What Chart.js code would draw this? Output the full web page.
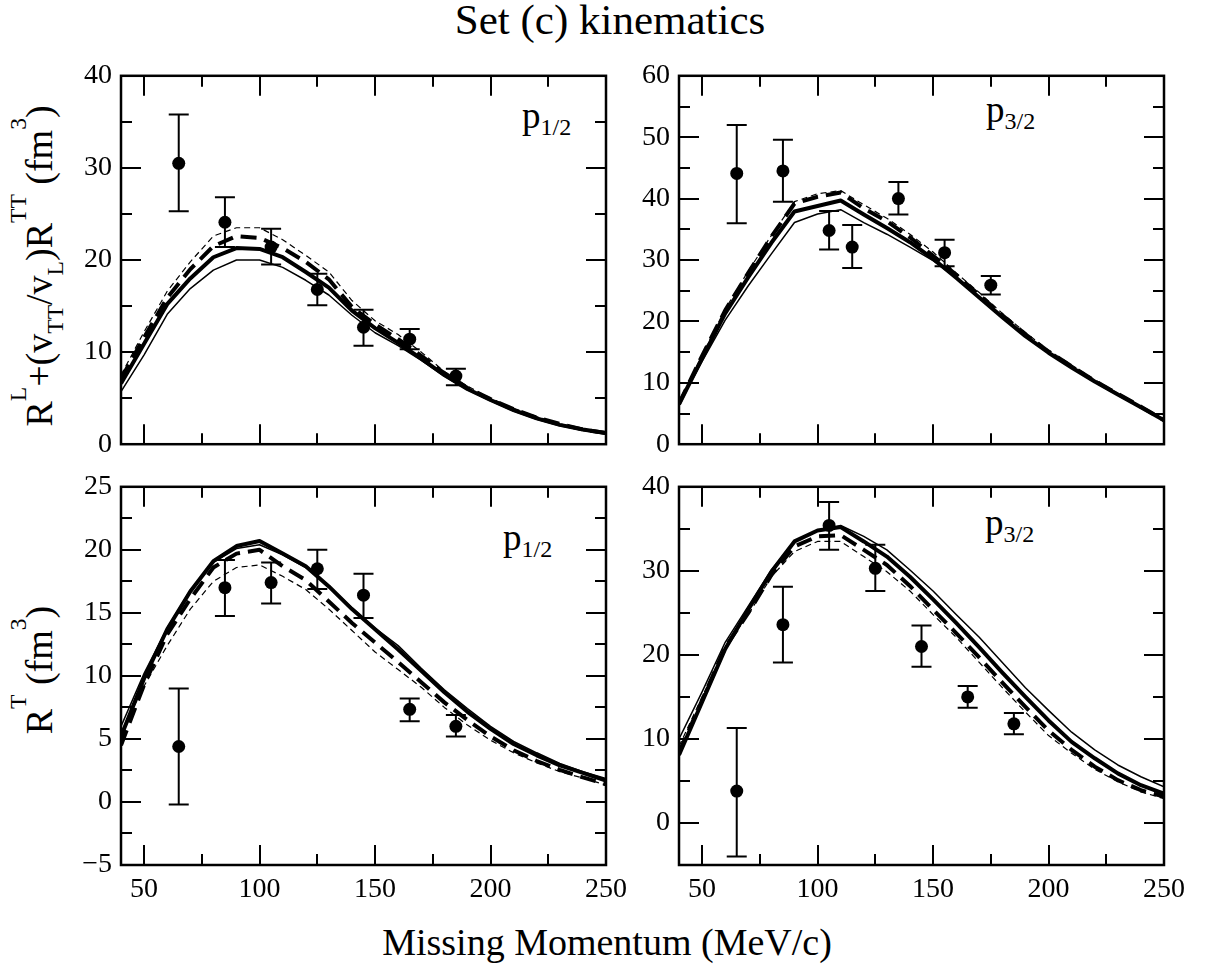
<!DOCTYPE html>
<html>
<head>
<meta charset="utf-8">
<script src="https://cdn.jsdelivr.net/npm/chart.js@4.4.0/dist/chart.umd.min.js"></script>
<style>
    body { margin: 0; background: #fff; }
    #figure { position: relative; width: 1209px; height: 970px; overflow: hidden;
              font-family: 'Liberation Serif', 'Times New Roman', serif; color: #000; }
    #figure canvas { position: absolute; }
    .txt { position: absolute; white-space: nowrap; line-height: 1; }
    .yt { font-size: 38px; transform: translate(-50%, -50%) rotate(-90deg); }
    .yt sup, .yt sub { position: relative; vertical-align: baseline; font-size: 0.62em; }
    .yt sup { top: -1.1em; }
    .yt sub { top: 0.45em; }
    .pl { font-size: 37px; }
    .pl sub { position: relative; vertical-align: baseline; font-size: 0.65em; top: 0.3em; }
</style>
</head>
<body>
<div id="figure">
    <div class="txt" style="left:610px; top:-2px; font-size:43px; transform:translateX(-50%);">Set (c) kinematics</div>
    <div class="txt" style="left:607px; top:923px; font-size:38px; transform:translateX(-50%);">Missing Momentum (MeV/c)</div>
    <div class="txt yt" style="left:39px; top:266px;">R<sup>L</sup>+(v<sub>TT</sub>/v<sub>L</sub>)R<sup>TT</sup> (fm<sup>3</sup>)</div>
    <div class="txt yt" style="left:39px; top:670px;">R<sup>T</sup> (fm<sup>3</sup>)</div>
    <div class="txt pl" style="left:522px; top:97px;">p<sub>1/2</sub></div>
    <div class="txt pl" style="left:986px; top:91px;">p<sub>3/2</sub></div>
    <div class="txt pl" style="left:503px; top:519px;">p<sub>1/2</sub></div>
    <div class="txt pl" style="left:985px; top:504px;">p<sub>3/2</sub></div>
</div>

<script>
// model curves are tabulated every 10 MeV/c
var curveX = [40, 50, 60, 70, 80, 90, 100, 110, 120, 130, 140, 150, 160, 170, 180, 190, 200, 210, 220, 230, 240, 250];

// top left: p1/2, R^L + (v_TT/v_L) R^TT
var tlThick     = [6.6, 10.9, 15.2, 18.0, 20.3, 21.3, 21.2, 20.3, 18.7, 17.0, 14.5, 12.6, 11.0, 9.3, 7.5, 6.0, 4.8, 3.7, 2.8, 2.1, 1.6, 1.2];
var tlThin      = [5.7, 9.7, 14.1, 16.9, 18.9, 20.0, 20.0, 19.2, 17.8, 16.2, 14.0, 12.1, 10.7, 9.1, 7.4, 5.9, 4.7, 3.6, 2.7, 2.0, 1.5, 1.1];
var tlThickDash = [7.1, 11.6, 15.9, 19.0, 21.5, 22.6, 22.4, 21.3, 19.8, 17.9, 14.9, 13.0, 11.4, 9.6, 7.7, 6.1, 4.9, 3.8, 2.9, 2.2, 1.6, 1.2];
var tlThinDash  = [7.5, 12.2, 16.6, 19.8, 22.6, 23.5, 23.5, 22.2, 20.5, 18.7, 15.6, 13.4, 11.9, 10.0, 7.9, 6.3, 5.0, 3.9, 3.0, 2.2, 1.7, 1.25];
var tlDataX = [65, 85, 105, 125, 145, 165, 185];
var tlDataY = [30.5, 24.1, 21.4, 16.8, 12.7, 11.4, 7.4];
var tlErrLo = [25.3, 21.4, 19.5, 15.1, 10.7, 10.3, 6.4];
var tlErrHi = [35.8, 26.8, 23.4, 18.5, 14.6, 12.5, 8.2];

// top right: p3/2, R^L + (v_TT/v_L) R^TT
var trThick     = [6.5, 14.0, 21.3, 27.2, 32.8, 37.9, 38.8, 39.7, 37.4, 35.2, 32.9, 30.2, 27.1, 23.9, 20.7, 17.6, 14.9, 12.5, 10.2, 8.1, 6.0, 3.9];
var trThin      = [6.5, 13.5, 20.2, 25.8, 31.0, 36.1, 37.5, 38.2, 36.1, 34.2, 32.1, 29.9, 27.1, 23.9, 20.7, 17.6, 14.9, 12.5, 10.2, 8.1, 6.0, 3.9];
var trThickDash = [6.6, 14.4, 21.8, 27.9, 33.8, 39.2, 40.3, 41.0, 38.4, 36.3, 33.7, 30.7, 27.6, 24.3, 21.0, 17.9, 15.1, 12.7, 10.3, 8.2, 6.1, 3.9];
var trThinDash  = [6.7, 14.5, 22.0, 28.2, 34.0, 39.5, 40.8, 41.3, 39.0, 36.8, 34.2, 31.3, 27.9, 24.7, 21.3, 18.2, 15.3, 12.9, 10.5, 8.3, 6.2, 4.0];
var trDataX = [65, 85, 105, 115, 135, 155, 175];
var trDataY = [44.1, 44.5, 34.8, 32.1, 40.0, 31.2, 25.9];
var trErrLo = [36.0, 39.5, 31.7, 28.7, 37.4, 29.0, 24.4];
var trErrHi = [52.0, 49.6, 38.0, 35.7, 42.7, 33.3, 27.4];

// bottom left: p1/2, R^T
var blThick     = [5.2, 9.8, 13.7, 16.7, 19.1, 20.3, 20.7, 19.7, 18.7, 17.1, 15.3, 13.7, 12.1, 10.4, 8.7, 7.15, 5.8, 4.6, 3.7, 2.9, 2.3, 1.7];
var blThin      = [6.0, 10.2, 13.8, 16.8, 19.0, 20.1, 20.4, 19.6, 18.6, 17.1, 15.4, 13.8, 12.4, 10.6, 8.9, 7.4, 6.0, 4.8, 3.9, 3.05, 2.4, 1.85];
var blThickDash = [4.5, 9.3, 13.3, 16.1, 18.6, 19.7, 20.0, 18.7, 17.6, 15.9, 14.2, 12.65, 11.1, 9.5, 7.9, 6.5, 5.2, 4.1, 3.25, 2.55, 1.95, 1.4];
var blThinDash  = [5.5, 9.2, 12.4, 15.3, 17.5, 18.6, 18.8, 17.9, 16.85, 15.3, 13.6, 11.9, 10.5, 9.1, 7.5, 6.1, 4.9, 3.9, 3.1, 2.4, 1.9, 1.35];
var blDataX = [65, 85, 105, 125, 145, 165, 185];
var blDataY = [4.4, 17.0, 17.4, 18.5, 16.4, 7.35, 6.0];
var blErrLo = [-0.2, 14.75, 15.75, 16.9, 14.6, 6.4, 5.2];
var blErrHi = [9.0, 19.2, 19.0, 20.0, 18.1, 8.2, 6.9];

// bottom right: p3/2, R^T
var brThick     = [8.1, 14.4, 20.7, 25.4, 29.9, 33.5, 34.8, 35.2, 33.5, 31.7, 29.3, 26.6, 23.8, 20.9, 17.9, 15.0, 12.2, 9.65, 7.7, 5.9, 4.5, 3.5];
var brThin      = [10.0, 15.6, 21.5, 25.8, 30.1, 33.5, 34.8, 35.4, 34.1, 32.5, 30.1, 27.6, 24.8, 22.1, 19.1, 16.1, 13.4, 10.8, 8.7, 6.9, 5.5, 4.3];
var brThickDash = [8.4, 14.6, 20.9, 25.0, 29.5, 32.9, 34.1, 34.25, 32.5, 30.7, 28.2, 25.4, 22.6, 19.7, 16.7, 13.8, 11.0, 8.7, 6.7, 5.1, 3.9, 3.15];
var brThinDash  = [9.1, 15.0, 20.9, 24.8, 29.3, 32.3, 33.5, 33.5, 31.7, 29.9, 27.6, 24.8, 22.1, 19.1, 16.1, 13.2, 10.4, 8.3, 6.4, 4.9, 3.7, 2.9];
var brDataX = [65, 85, 105, 125, 145, 165, 185];
var brDataY = [3.8, 23.6, 35.4, 30.3, 21.0, 15.0, 11.8];
var brErrLo = [-4.0, 19.1, 32.5, 27.6, 18.6, 13.7, 10.55];
var brErrHi = [11.3, 28.1, 38.2, 33.1, 23.5, 16.3, 13.1];

// tick positions (major + minor)
var xTicks = [50, 75, 100, 125, 150, 175, 200, 225, 250];
var tlYTicks = [0, 5, 10, 15, 20, 25, 30, 35, 40];
var trYTicks = [0, 5, 10, 15, 20, 25, 30, 35, 40, 45, 50, 55, 60];
var blYTicks = [-5, -2.5, 0, 2.5, 5, 7.5, 10, 12.5, 15, 17.5, 20, 22.5, 25];
var brYTicks = [-5, 0, 5, 10, 15, 20, 25, 30, 35, 40];

var serif = "'Liberation Serif', 'Times New Roman', serif";
Chart.defaults.font.family = serif;
Chart.defaults.color = '#000';

// line widths / dashes for the four model curves
var curveStyles = [
    { width: 4, dash: [] },        // thick solid
    { width: 1.5, dash: [] },      // thin solid
    { width: 4, dash: [16, 8] },   // thick dashed
    { width: 1.2, dash: [6, 4] }   // thin dashed
];

// frame position of each panel in the page
var panels = [
    { left: 121, top: 72, right: 606, bottom: 452, yMin: 0, yMax: 40, yTicks: tlYTicks, yMajor: 10, showX: false,
      curves: [tlThick, tlThin, tlThickDash, tlThinDash], dx: tlDataX, dy: tlDataY, lo: tlErrLo, hi: tlErrHi },
    { left: 679, top: 72, right: 1164, bottom: 452, yMin: 0, yMax: 60, yTicks: trYTicks, yMajor: 10, showX: false,
      curves: [trThick, trThin, trThickDash, trThinDash], dx: trDataX, dy: trDataY, lo: trErrLo, hi: trErrHi },
    { left: 121, top: 483, right: 606, bottom: 865, yMin: -5, yMax: 25, yTicks: blYTicks, yMajor: 5, showX: true,
      curves: [blThick, blThin, blThickDash, blThinDash], dx: blDataX, dy: blDataY, lo: blErrLo, hi: blErrHi },
    { left: 679, top: 483, right: 1164, bottom: 865, yMin: -5, yMax: 40, yTicks: brYTicks, yMajor: 10, showX: true,
      curves: [brThick, brThin, brThickDash, brThinDash], dx: brDataX, dy: brDataY, lo: brErrLo, hi: brErrHi }
];

function isMajor(v, step) {
    var r = v / step;
    return Math.abs(r - Math.round(r)) < 1e-6;
}

// error bars with caps, drawn under the markers
var errorBarPlugin = {
    id: 'errorBars',
    beforeDatasetsDraw: function (chart, args, opts) {
        var ctx = chart.ctx;
        var xs = chart.scales.x, ys = chart.scales.y;
        ctx.save();
        ctx.strokeStyle = '#000';
        ctx.lineWidth = 2;
        ctx.beginPath();
        for (var i = 0; i < opts.x.length; i++) {
            var px = xs.getPixelForValue(opts.x[i]);
            var top = ys.getPixelForValue(opts.hi[i]);
            var bot = ys.getPixelForValue(opts.lo[i]);
            ctx.moveTo(px, top); ctx.lineTo(px, bot);
            ctx.moveTo(px - 10, top); ctx.lineTo(px + 10, top);
            ctx.moveTo(px - 10, bot); ctx.lineTo(px + 10, bot);
        }
        ctx.stroke();
        ctx.restore();
    }
};

// box frame with inward ticks on all four sides
var framePlugin = {
    id: 'frameTicks',
    afterDraw: function (chart, args, opts) {
        var ctx = chart.ctx, a = chart.chartArea;
        var xs = chart.scales.x, ys = chart.scales.y;
        ctx.save();
        ctx.strokeStyle = '#000';
        ctx.lineWidth = 2;
        ctx.beginPath();
        xs.ticks.forEach(function (t) {
            var px = Math.round(xs.getPixelForValue(t.value));
            if (px <= a.left + 1 || px >= a.right - 1) return;
            var len = isMajor(t.value, opts.xMajor) ? 20 : 11;
            ctx.moveTo(px, a.bottom); ctx.lineTo(px, a.bottom - len);
            ctx.moveTo(px, a.top); ctx.lineTo(px, a.top + len);
        });
        ys.ticks.forEach(function (t) {
            var py = Math.round(ys.getPixelForValue(t.value));
            if (py <= a.top + 1 || py >= a.bottom - 1) return;
            var len = isMajor(t.value, opts.yMajor) ? 20 : 11;
            ctx.moveTo(a.left, py); ctx.lineTo(a.left + len, py);
            ctx.moveTo(a.right, py); ctx.lineTo(a.right - len, py);
        });
        ctx.stroke();
        ctx.lineWidth = 2.5;
        ctx.strokeRect(a.left, a.top, a.right - a.left, a.bottom - a.top);
        ctx.restore();
    }
};

function toPoints(xs, ys) {
    return xs.map(function (x, i) { return { x: x, y: ys[i] }; });
}

function buildPanel(p) {
    var padL = 75, padT = 22, padR = 32;
    var padB = p.showX ? 50 : 18;
    var canvas = document.createElement('canvas');
    canvas.width = (p.right - p.left) + padL + padR;
    canvas.height = (p.bottom - p.top) + padT + padB;
    canvas.style.left = (p.left - padL) + 'px';
    canvas.style.top = (p.top - padT) + 'px';
    document.getElementById('figure').appendChild(canvas);

    var datasets = p.curves.map(function (ys, k) {
        return {
            data: toPoints(curveX, ys),
            showLine: true,
            borderColor: '#000',
            borderWidth: curveStyles[k].width,
            borderDash: curveStyles[k].dash,
            borderJoinStyle: 'round',
            pointRadius: 0,
            tension: 0,
            fill: false
        };
    });
    // measured points
    datasets.push({
        data: toPoints(p.dx, p.dy),
        showLine: false,
        pointRadius: 6.5,
        pointBackgroundColor: '#000',
        pointBorderWidth: 0
    });

    var tickFont = { family: serif, size: 28 };

    return new Chart(canvas, {
        type: 'scatter',
        data: { datasets: datasets },
        options: {
            responsive: false,
            animation: false,
            devicePixelRatio: 1,
            events: [],
            layout: { padding: { top: padT, right: padR, left: 0, bottom: 0 } },
            plugins: {
                legend: { display: false },
                tooltip: { enabled: false },
                errorBars: { x: p.dx, lo: p.lo, hi: p.hi },
                frameTicks: { xMajor: 50, yMajor: p.yMajor }
            },
            scales: {
                x: {
                    type: 'linear', min: 40, max: 250,
                    grid: { display: false, drawTicks: false },
                    border: { display: false },
                    afterBuildTicks: function (scale) {
                        scale.ticks = xTicks.map(function (v) { return { value: v }; });
                    },
                    afterFit: function (scale) { scale.height = padB; },
                    ticks: {
                        display: p.showX, autoSkip: false, maxRotation: 0, padding: 8,
                        color: '#000', font: tickFont,
                        callback: function (v) { return isMajor(v, 50) ? v : ''; }
                    }
                },
                y: {
                    type: 'linear', min: p.yMin, max: p.yMax,
                    grid: { display: false, drawTicks: false },
                    border: { display: false },
                    afterBuildTicks: function (scale) {
                        scale.ticks = p.yTicks.map(function (v) { return { value: v }; });
                    },
                    afterFit: function (scale) { scale.width = padL; },
                    ticks: {
                        autoSkip: false, padding: 9, color: '#000', font: tickFont,
                        callback: function (v) {
                            if (!isMajor(v, p.yMajor)) return '';
                            return v < 0 ? '\u2212' + (-v) : '' + v;
                        }
                    }
                }
            }
        },
        plugins: [errorBarPlugin, framePlugin]
    });
}

panels.forEach(buildPanel);
</script>
</body>
</html>
